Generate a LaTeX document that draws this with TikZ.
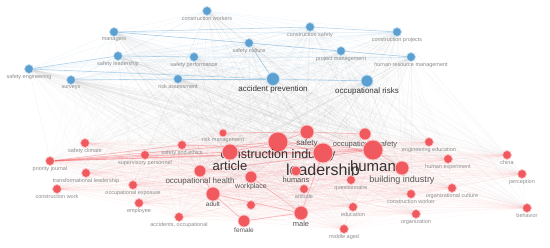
\documentclass[tikz,border=0pt]{standalone}
\usepackage{fontspec}
\setmainfont{Liberation Sans}
\usetikzlibrary{backgrounds}
\definecolor{vblue}{HTML}{5BA0D0}
\definecolor{vred}{HTML}{F05A5F}
\definecolor{lgray}{HTML}{8C8C8C}
\definecolor{mgray}{HTML}{555555}
\definecolor{dgray}{HTML}{333333}
\def\bluelist{cworkers,managers,sculture,csafety,cprojects,pmanage,hrm,sleader,sperform,sengin,surveys,riskass,accprev,occrisk}
\def\redlist{sclimate,pjournal,tleader,cwork,occexp,employee,accocc,superv,sethics,rmanage,cindustry,safety,occsafety,human,leadership,article,bindustry,occhealth,humans,workplace,adult,unl,female,male,quest,attitude,educ,midaged,cworker,organiz,orgcult,perception,behavior,china,hexp,engedu}
\def\mainreds{cindustry,leadership,human,article,safety,occsafety,occhealth,workplace,bindustry,male}

\begin{document}
\begin{tikzpicture}[x=1pt,y=-1pt,label distance=0pt,
  bn/.style={circle,inner sep=0pt,minimum size=#1,fill=vblue,draw=vblue!35,line width=.8pt},
  bn/.default=9pt,
  rn/.style={circle,inner sep=0pt,minimum size=#1,fill=vred,draw=vred!35,line width=.8pt},
  rn/.default=9pt,
  lab/.style={font=\fontsize{5.5}{6}\selectfont,text=lgray,inner sep=0pt},
  mid/.style={font=\fontsize{#1}{#1}\selectfont,text=mgray,inner sep=0pt},
  big/.style={font=\fontsize{#1}{#1}\selectfont,text=dgray,inner sep=0pt},
  bedge/.style={vblue!70,line width=.3pt,opacity=.18},
  redge/.style={vred!80,line width=.3pt,opacity=.09},
  xedge/.style={gray!70,line width=.3pt,opacity=.09},
  bstrong/.style={vblue,line width=.6pt,opacity=.4},
  rstrong/.style={vred,line width=.8pt,opacity=.35}]
\useasboundingbox (0,0) rectangle (550,248);
% blue cluster
\node[bn,label={[lab]below:construction workers}] (cworkers) at (207,11) {};
\node[bn,label={[lab]below:managers}] (managers) at (114,32) {};
\node[bn,label={[lab]below:safety culture}] (sculture) at (249,43) {};
\node[bn,label={[lab]below:construction safety}] (csafety) at (310,27) {};
\node[bn,label={[lab]below:construction projects}] (cprojects) at (397,32) {};
\node[bn,label={[lab]below:project management}] (pmanage) at (341,51) {};
\node[bn,label={[lab]below:human resource management}] (hrm) at (411,57) {};
\node[bn,label={[lab]below:safety leadership}] (sleader) at (118,56) {};
\node[bn,label={[lab]below:safety performance}] (sperform) at (194,57) {};
\node[bn,label={[lab]below:safety engineering}] (sengin) at (29,69) {};
\node[bn,label={[lab]below:surveys}] (surveys) at (71,80) {};
\node[bn,label={[lab]below:risk assessment}] (riskass) at (178,79) {};
\node[bn=13pt,label={[big=8]below:accident prevention}] (accprev) at (273,79) {};
\node[bn=12pt,label={[big=8]below:occupational risks}] (occrisk) at (367,81) {};
% red cluster
\node[rn,label={[lab]below:safety climate}] (sclimate) at (85,143) {};
\node[rn,label={[lab]below:priority journal}] (pjournal) at (50,161) {};
\node[rn,label={[lab]below:transformational leadership}] (tleader) at (86,173) {};
\node[rn,label={[lab]below:construction work}] (cwork) at (57,189) {};
\node[rn,label={[lab]below:occupational exposure}] (occexp) at (133,185) {};
\node[rn,label={[lab]below:employee}] (employee) at (139,203) {};
\node[rn,label={[lab]below:accidents, occupational}] (accocc) at (179,217) {};
\node[rn,label={[lab]below:supervisory personnel}] (superv) at (145,155) {};
\node[rn,label={[lab]below:safety and ethics}] (sethics) at (182,145) {};
\node[rn=8pt,label={[lab]below:risk management}] (rmanage) at (223,133) {};
\node[rn=20pt,label={[big=12.5,yshift=3pt]below:construction industry}] (cindustry) at (278,142) {};
\node[rn=14pt,label={[mid=8]below:safety}] (safety) at (307,132) {};
\node[rn=12pt,label={[mid=7.5]below:occupational safety}] (occsafety) at (365,134) {};
\node[rn=20pt,label={[big=15]below:human}] (human) at (373,150) {};
\node[rn=20pt,label={[big=16]below:leadership}] (leadership) at (323,153) {};
\node[rn=16pt,label={[big=13]below:article}] (article) at (230,152) {};
\node[rn=14pt,label={[mid=9]below:building industry}] (bindustry) at (402,168) {};
\node[rn=12pt,label={[mid=8]below:occupational health}] (occhealth) at (200,171) {};
\node[rn=10pt,label={[mid=7.5]below:humans}] (humans) at (296,171) {};
\node[rn=12pt,label={[mid=7]below:workplace}] (workplace) at (251,177) {};
\node[rn=14pt,label={[mid=6.5]below:adult}] (adult) at (213,194) {};
\node[rn] (unl) at (251,205) {};
\node[rn=12pt,label={[mid=6.5]below:female}] (female) at (244,221) {};
\node[rn=14pt,label={[mid=7.5]below:male}] (male) at (301,213) {};
\node[rn,label={[lab]below:questionnaire}] (quest) at (351,180) {};
\node[rn,label={[lab]below:attitude}] (attitude) at (304,189) {};
\node[rn,label={[lab]below:education}] (educ) at (353,207) {};
\node[rn,label={[lab]below:middle aged}] (midaged) at (344,229) {};
\node[rn,label={[lab]below:construction worker}] (cworker) at (411,194) {};
\node[rn,label={[lab]below:organization}] (organiz) at (416,214) {};
\node[rn,label={[lab]below:organizational culture}] (orgcult) at (452,188) {};
\node[rn,label={[lab]below:perception}] (perception) at (522,174) {};
\node[rn,label={[lab]below:behavior}] (behavior) at (527,208) {};
\node[rn,label={[lab]below:china}] (china) at (507,155) {};
\node[rn,label={[lab]below:human experiment}] (hexp) at (448,159) {};
\node[rn,label={[lab]below:engineering education}] (engedu) at (429,142) {};
% links
\begin{scope}[on background layer]
\foreach \a [count=\i] in \bluelist {
  \foreach \b [count=\j] in \bluelist {\ifnum\j>\i \draw[bedge] (\a) -- (\b);\fi}}
\foreach \a [count=\i] in \redlist {
  \foreach \b [count=\j] in \redlist {\ifnum\j>\i \draw[redge] (\a) -- (\b);\fi}}
\foreach \a in \bluelist {\foreach \b in \redlist {\draw[xedge] (\a) -- (\b);}}
\foreach \a in \bluelist {\foreach \b in \mainreds {\draw[xedge] (\a) -- (\b);}}
\foreach \a/\b in {sengin/accprev,surveys/riskass,riskass/accprev,accprev/occrisk,sleader/sperform,
  managers/csafety,csafety/cprojects,pmanage/hrm,sculture/pmanage,sengin/sleader,sculture/accprev,managers/sculture}
  \draw[bstrong] (\a) -- (\b);
\foreach \a/\b in {pjournal/superv,pjournal/sethics,pjournal/article,pjournal/cindustry,pjournal/leadership,
  pjournal/human,sethics/human,article/cindustry,cindustry/human,leadership/human,cindustry/leadership,
  article/leadership,safety/occsafety,cindustry/safety,human/bindustry,human/occsafety,male/female,
  male/adult,adult/female,male/leadership,adult/occhealth,workplace/male,rmanage/safety,occhealth/human}
  \draw[rstrong] (\a) -- (\b);
\end{scope}
\end{tikzpicture}
\end{document}
